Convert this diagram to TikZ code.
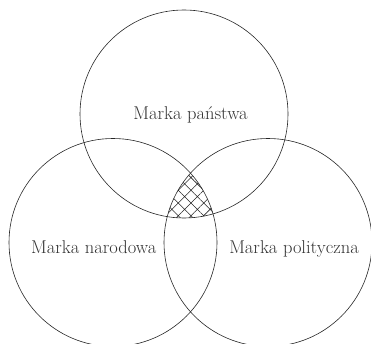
\documentclass[tikz,border=0pt]{standalone}
\usepackage{tikz}
\usetikzlibrary{patterns.meta}
\tikzset{venn/.style={draw=black!85, line width=0.6pt}, vennlabel/.style={font=\fontsize{18.5}{22}\selectfont, anchor=base, text=black!80, inner sep=0pt}, hatchfill/.style={pattern={Hatch[angle=45, distance=9pt, line width=0.55pt]}, pattern color=black!85}}

\begin{document}
\begin{tikzpicture}[x=1pt, y=1pt]
\useasboundingbox (0,0) rectangle (371,343);
\coordinate (panstwo) at (184,229);
\coordinate (narod) at (113,100.5);
\coordinate (polityka) at (268,100.5);
\begin{scope}
\clip (panstwo) circle (104);
\clip (narod) circle (104);
\fill[hatchfill] (polityka) circle (104);
\end{scope}
\draw[venn] (panstwo) circle (104);
\draw[venn] (narod) circle (104);
\draw[venn] (polityka) circle (104);
\node[vennlabel] (lpanstwo) at (190.5,223) {Marka państwa};
\node[vennlabel] (lnarod) at (93.7,90) {Marka narodowa};
\node[vennlabel] (lpolityka) at (294,90) {Marka polityczna};
\end{tikzpicture}
\end{document}
